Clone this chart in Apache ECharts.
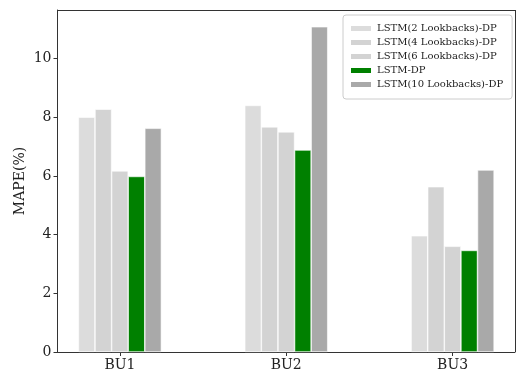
<!DOCTYPE html>
<html>
<head>
<meta charset="utf-8">
<script src="https://cdn.jsdelivr.net/npm/echarts@6/dist/echarts.min.js"></script>
<style>html,body{margin:0;padding:0;background:#fff;}#c{width:516px;height:373px;}</style>
</head>
<body>
<div id="c"></div>
<script>
const categories = ['BU1', 'BU2', 'BU3'];
const seriesNames = ['LSTM(2 Lookbacks)-DP', 'LSTM(4 Lookbacks)-DP', 'LSTM(6 Lookbacks)-DP', 'LSTM-DP', 'LSTM(10 Lookbacks)-DP'];
const lstm2 = [8.00, 8.40, 3.96];
const lstm4 = [8.27, 7.67, 5.63];
const lstm6 = [6.17, 7.50, 3.60];
const lstmDP = [5.98, 6.88, 3.46];
const lstm10 = [7.62, 11.08, 6.20];
const yTicks = [0, 2, 4, 6, 8, 10];

const seriesValues = [lstm2, lstm4, lstm6, lstmDP, lstm10];
const colors = ['#dcdcdc', '#d3d3d3', '#d3d3d3', '#008000', '#a9a9a9'];
const font = 'DejaVu Serif';

const chart = echarts.init(document.getElementById('c'));
chart.setOption({
  animation: false,
  backgroundColor: '#fff',
  grid: { left: 57.5, right: 1, top: 10, bottom: 21, containLabel: false },
  xAxis: {
    type: 'value', min: -0.375, max: 2.375,
    splitLine: { show: false },
    axisLine: { show: true, onZero: false, lineStyle: { color: '#333', width: 1 } },
    axisTick: { show: true, length: 4, customValues: [0, 1, 2], lineStyle: { color: '#333' } },
    axisLabel: { customValues: [0, 1, 2], formatter: v => categories[Math.round(v)] || '', color: '#222', fontFamily: font, fontSize: 14, margin: 6 }
  },
  yAxis: {
    type: 'value', min: 0, max: 11.65,
    name: 'MAPE(%)', nameLocation: 'middle', nameGap: 30, nameMoveOverlap: false,
    nameTextStyle: { fontFamily: font, fontSize: 14, color: '#222' },
    splitLine: { show: false },
    axisLine: { show: true, onZero: false, lineStyle: { color: '#333', width: 1 } },
    axisTick: { show: true, length: 4, customValues: yTicks, lineStyle: { color: '#333' } },
    axisLabel: { customValues: yTicks, color: '#222', fontFamily: font, fontSize: 14, margin: 6 }
  },
  graphic: [
    { type: 'line', shape: { x1: 57.5, y1: 10.5, x2: 515.5, y2: 10.5 }, style: { stroke: '#333', lineWidth: 1 }, silent: true },
    { type: 'line', shape: { x1: 515.5, y1: 10, x2: 515.5, y2: 352 }, style: { stroke: '#333', lineWidth: 1 }, silent: true }
  ],
  legend: {
    orient: 'vertical', left: 343, top: 15,
    itemWidth: 22, itemHeight: 7, itemGap: 1,
    padding: [7, 9, 8, 6],
    borderColor: '#ccc', borderWidth: 1, borderRadius: 3,
    backgroundColor: 'rgba(255,255,255,0.8)',
    icon: 'rect',
    textStyle: { fontFamily: font, fontSize: 10, color: '#222', lineHeight: 13 },
    data: seriesNames
  },
  series: seriesNames.map((name, i) => ({
    name: name,
    type: 'bar',
    barWidth: 16.6,
    barGap: '0%',
    itemStyle: { color: colors[i], borderColor: '#fff', borderWidth: 0.6 },
    data: seriesValues[i].map((v, j) => [j, v])
  }))
});
</script>
</body>
</html>
